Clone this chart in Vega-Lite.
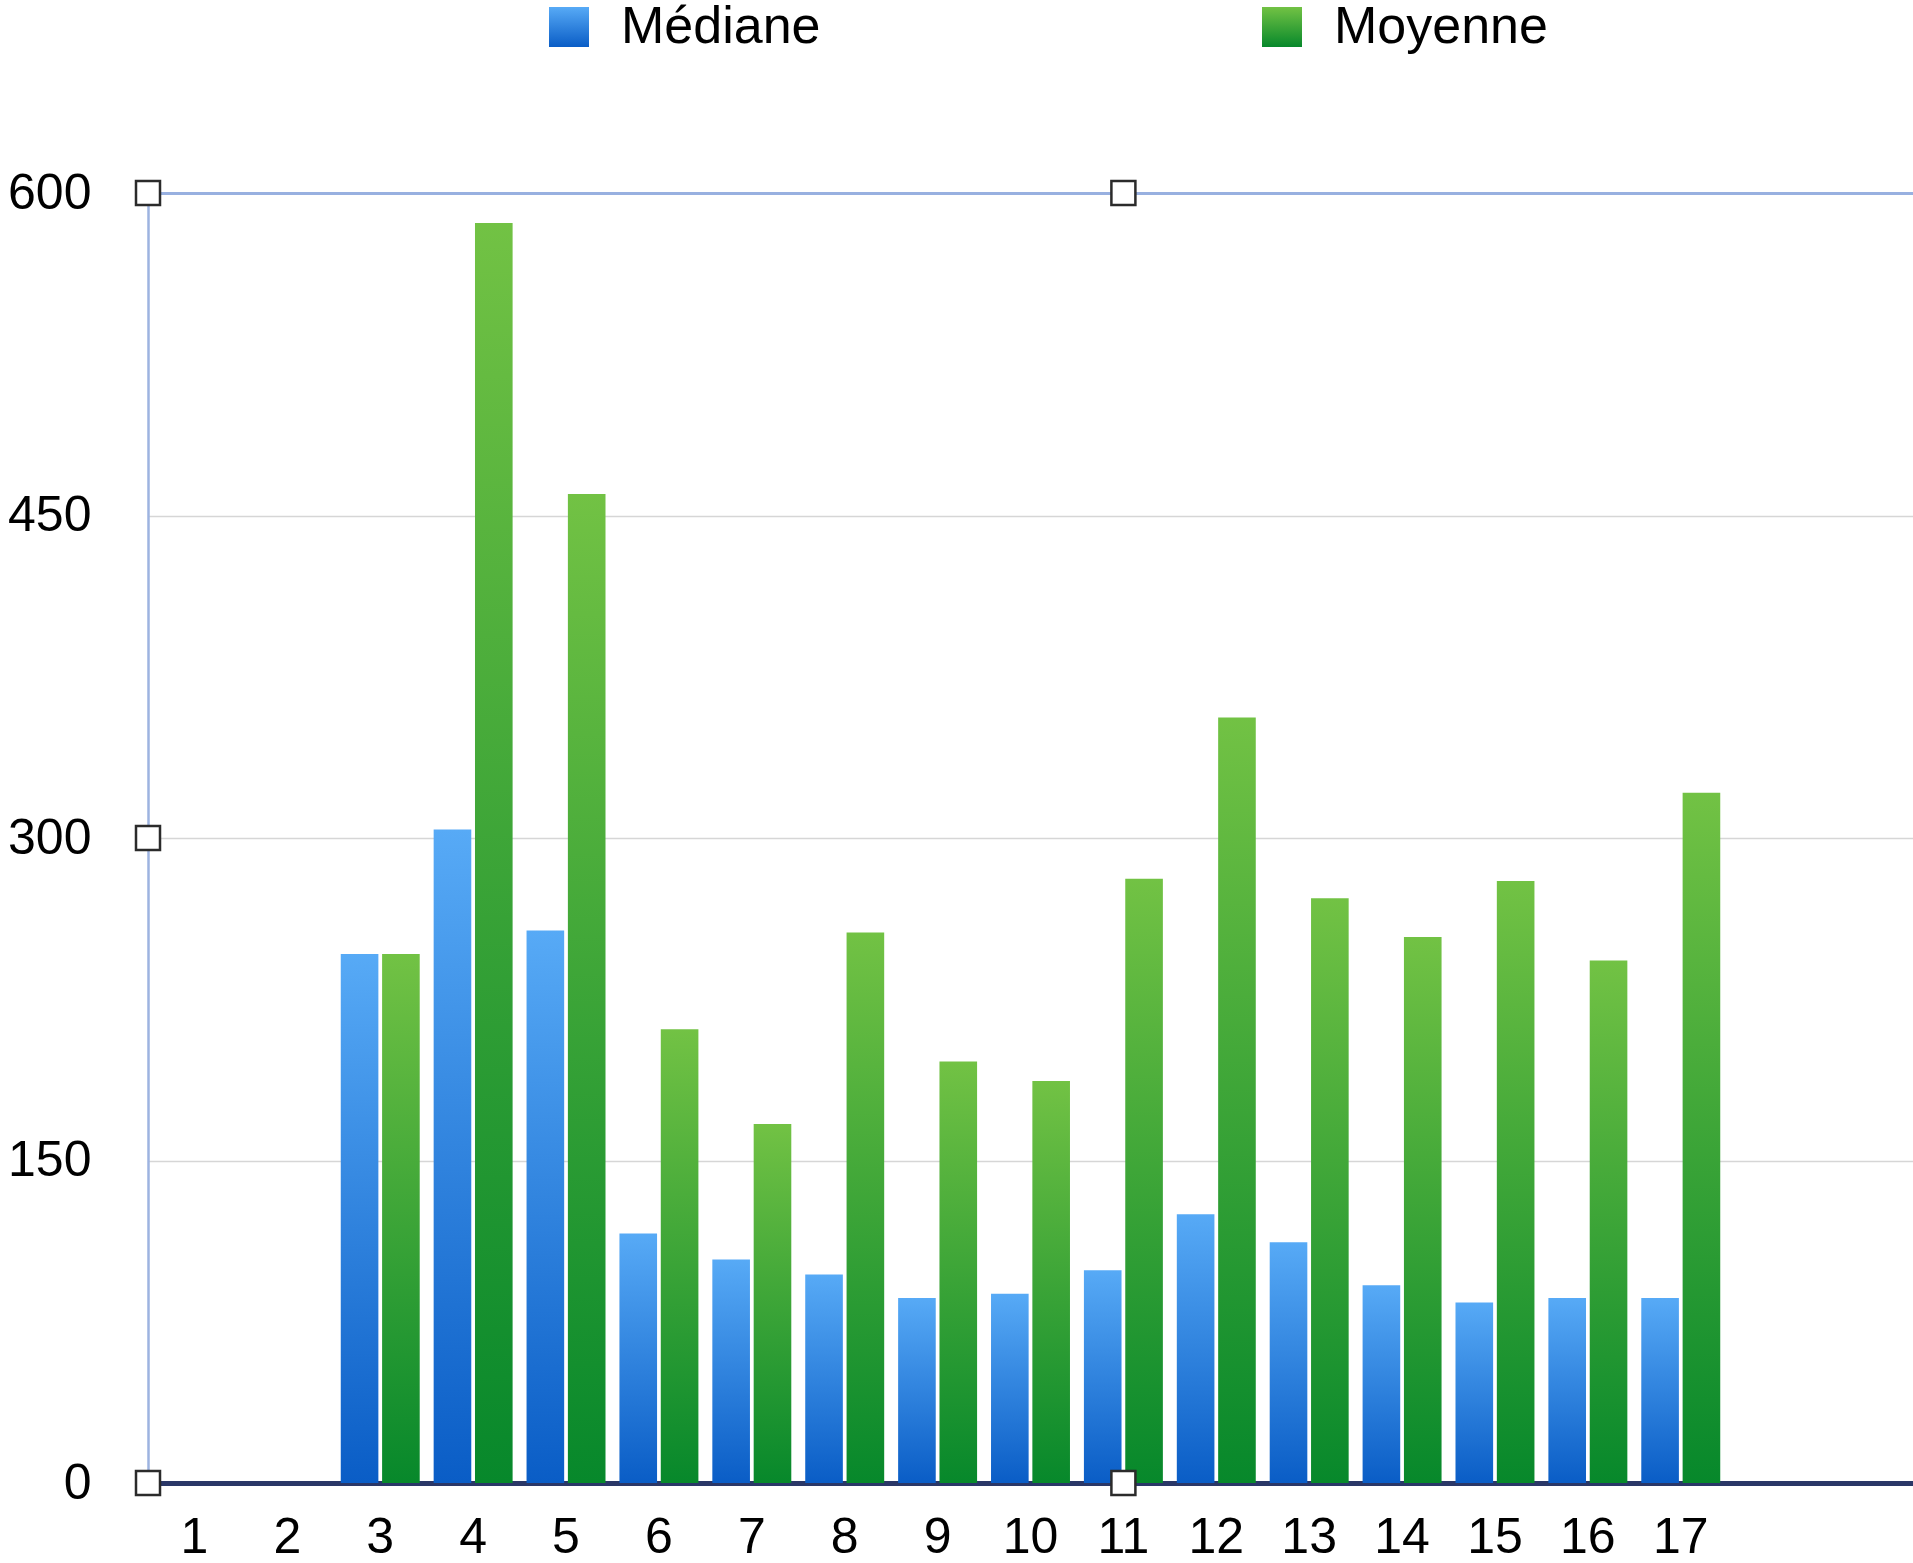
{
  "$schema": "https://vega.github.io/schema/vega-lite/v6.json",
  "width": 1765,
  "height": 1290,
  "autosize": {"type": "none"},
  "padding": {"left": 148, "top": 193, "right": 0, "bottom": 80},
  "background": "white",
  "config": {
    "view": {"stroke": null},
    "font": "Liberation Sans"
  },
  "datasets": {
    "bars": [
      {"n": 3, "serie": "Médiane", "valeur": 246},
      {"n": 3, "serie": "Moyenne", "valeur": 246},
      {"n": 4, "serie": "Médiane", "valeur": 304},
      {"n": 4, "serie": "Moyenne", "valeur": 586},
      {"n": 5, "serie": "Médiane", "valeur": 257},
      {"n": 5, "serie": "Moyenne", "valeur": 460},
      {"n": 6, "serie": "Médiane", "valeur": 116},
      {"n": 6, "serie": "Moyenne", "valeur": 211},
      {"n": 7, "serie": "Médiane", "valeur": 104},
      {"n": 7, "serie": "Moyenne", "valeur": 167},
      {"n": 8, "serie": "Médiane", "valeur": 97},
      {"n": 8, "serie": "Moyenne", "valeur": 256},
      {"n": 9, "serie": "Médiane", "valeur": 86},
      {"n": 9, "serie": "Moyenne", "valeur": 196},
      {"n": 10, "serie": "Médiane", "valeur": 88},
      {"n": 10, "serie": "Moyenne", "valeur": 187},
      {"n": 11, "serie": "Médiane", "valeur": 99},
      {"n": 11, "serie": "Moyenne", "valeur": 281},
      {"n": 12, "serie": "Médiane", "valeur": 125},
      {"n": 12, "serie": "Moyenne", "valeur": 356},
      {"n": 13, "serie": "Médiane", "valeur": 112},
      {"n": 13, "serie": "Moyenne", "valeur": 272},
      {"n": 14, "serie": "Médiane", "valeur": 92},
      {"n": 14, "serie": "Moyenne", "valeur": 254},
      {"n": 15, "serie": "Médiane", "valeur": 84},
      {"n": 15, "serie": "Moyenne", "valeur": 280},
      {"n": 16, "serie": "Médiane", "valeur": 86},
      {"n": 16, "serie": "Moyenne", "valeur": 243},
      {"n": 17, "serie": "Médiane", "valeur": 86},
      {"n": 17, "serie": "Moyenne", "valeur": 321}
    ],
    "handlesLeft": [
      {"hn": 1, "hy": 600},
      {"hn": 1, "hy": 300},
      {"hn": 1, "hy": 0}
    ],
    "handlesMid": [
      {"hn": 11, "hy": 600},
      {"hn": 11, "hy": 0}
    ]
  },
  "layer": [
    {
      "data": {"name": "bars"},
      "mark": {"type": "bar", "strokeWidth": 0},
      "encoding": {
        "x": {
          "field": "n",
          "type": "ordinal",
          "scale": {"domain": [1,2,3,4,5,6,7,8,9,10,11,12,13,14,15,16,17,18,19], "paddingInner": 0.15, "paddingOuter": 0.075},
          "axis": {
            "title": null,
            "labelAngle": 0,
            "labelFontSize": 50,
            "labelColor": "#000000",
            "labelPadding": 29,
            "ticks": false,
            "domainColor": "#2a3767",
            "domainWidth": 5,
            "labelExpr": "datum.value > 17 ? '' : datum.label"
          }
        },
        "xOffset": {
          "field": "serie",
          "type": "nominal",
          "scale": {"domain": ["Médiane", "Moyenne"], "paddingInner": 0.09}
        },
        "y": {
          "field": "valeur",
          "type": "quantitative",
          "scale": {"domain": [0, 600], "nice": false},
          "axis": {
            "title": null,
            "values": [0, 150, 300, 450, 600],
            "labelFontSize": 50,
            "labelColor": "#000000",
            "labelPadding": 57,
            "ticks": false,
            "domainColor": "#9db3e0",
            "domainWidth": 2.5,
            "grid": true,
            "gridColor": {"condition": {"test": "datum.value === 600", "value": "#98b0e0"}, "value": "#d6d6d6"},
            "gridWidth": {"condition": {"test": "datum.value === 600", "value": 3}, "value": 1.5}
          }
        },
        "fill": {
          "condition": {"test": "datum.serie === 'Médiane'", "value": {"gradient": "linear", "x1": 0, "y1": 0, "x2": 0, "y2": 1, "stops": [{"offset": 0, "color": "#57aaf6"}, {"offset": 1, "color": "#0a5dc6"}]}},
          "value": {"gradient": "linear", "x1": 0, "y1": 0, "x2": 0, "y2": 1, "stops": [{"offset": 0, "color": "#72c244"}, {"offset": 1, "color": "#07882b"}]}
        }
      }
    },
    {
      "data": {"name": "bars"},
      "transform": [{"filter": "datum.serie === 'Médiane'"}],
      "mark": {"type": "bar", "strokeWidth": 0, "opacity": 0, "fill": {"gradient": "linear", "x1": 0, "y1": 0, "x2": 0, "y2": 1, "stops": [{"offset": 0, "color": "#57aaf6"}, {"offset": 1, "color": "#0a5dc6"}]}},
      "encoding": {
        "x": {"field": "n", "type": "ordinal"},
        "xOffset": {"field": "serie", "type": "nominal"},
        "y": {"field": "valeur", "type": "quantitative"},
        "stroke": {
          "field": "serie",
          "type": "nominal",
          "scale": {"domain": ["Médiane"], "range": ["#2f84e0"]},
          "legend": {
            "title": null,
            "orient": "none",
            "legendX": 395,
            "legendY": -192,
            "symbolType": "square",
            "symbolSize": 1600,
            "symbolStrokeWidth": 0,
            "symbolOpacity": 1,
            "labelFontSize": 52,
            "labelColor": "#000000",
            "labelOffset": 26,
            "labelLimit": 400
          }
        }
      }
    },
    {
      "data": {"name": "bars"},
      "transform": [{"filter": "datum.serie === 'Moyenne'"}],
      "mark": {"type": "bar", "strokeWidth": 0, "opacity": 0, "fill": {"gradient": "linear", "x1": 0, "y1": 0, "x2": 0, "y2": 1, "stops": [{"offset": 0, "color": "#72c244"}, {"offset": 1, "color": "#07882b"}]}},
      "encoding": {
        "x": {"field": "n", "type": "ordinal"},
        "xOffset": {"field": "serie", "type": "nominal"},
        "y": {"field": "valeur", "type": "quantitative"},
        "strokeDash": {
          "field": "serie",
          "type": "nominal",
          "scale": {"domain": ["Moyenne"], "range": [[1, 0]]},
          "legend": {
            "title": null,
            "orient": "none",
            "legendX": 1108,
            "legendY": -192,
            "symbolType": "square",
            "symbolSize": 1600,
            "symbolStrokeWidth": 0,
            "symbolOpacity": 1,
            "labelFontSize": 52,
            "labelColor": "#000000",
            "labelOffset": 26,
            "labelLimit": 400
          }
        }
      }
    },
    {
      "data": {"name": "handlesLeft"},
      "mark": {"type": "point", "shape": "square", "size": 576, "filled": true, "fill": "white", "stroke": "#2b2b2b", "strokeWidth": 2.5, "opacity": 1},
      "encoding": {
        "x": {"field": "hn", "type": "ordinal", "bandPosition": -0.0882},
        "y": {"field": "hy", "type": "quantitative"}
      }
    },
    {
      "data": {"name": "handlesMid"},
      "mark": {"type": "point", "shape": "square", "size": 576, "filled": true, "fill": "white", "stroke": "#2b2b2b", "strokeWidth": 2.5, "opacity": 1},
      "encoding": {
        "x": {"field": "hn", "type": "ordinal", "bandPosition": 0.5},
        "y": {"field": "hy", "type": "quantitative"}
      }
    }
  ]
}
